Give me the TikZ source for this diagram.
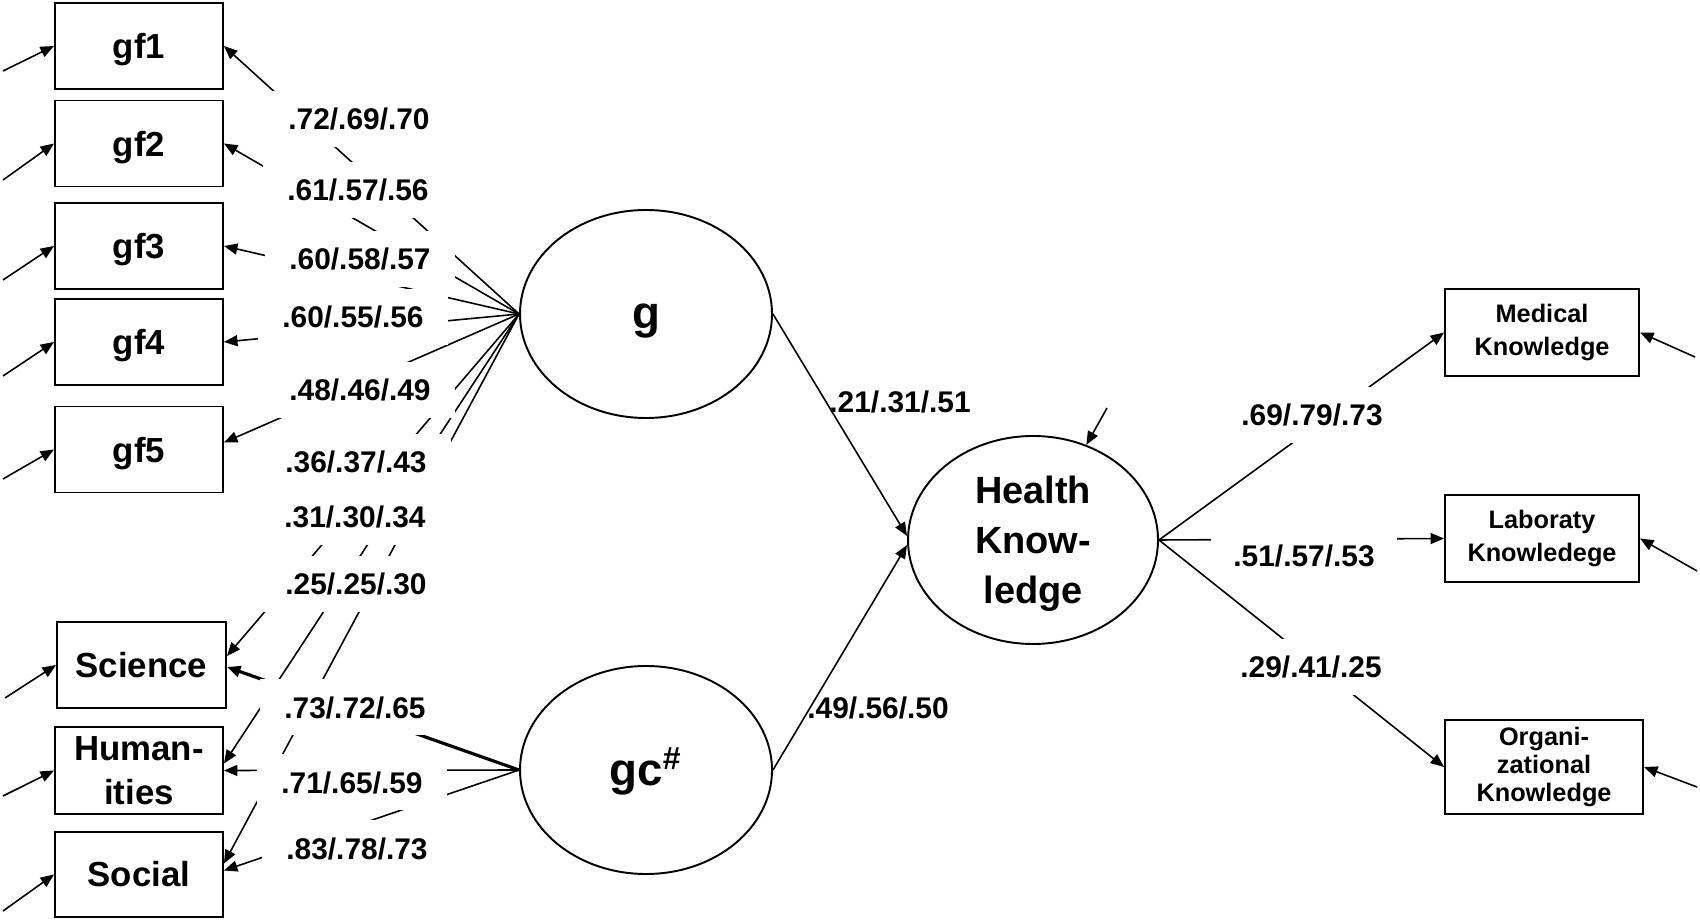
\documentclass[tikz,border=0pt]{standalone}
\usepackage{fontspec}
\setmainfont{Liberation Sans}
\usetikzlibrary{arrows.meta,shapes.geometric,calc}
\begin{document}
\begin{tikzpicture}[x=0.1mm,y=-0.1mm,
  line width=0.45pt,
  arr/.style={-{Triangle[length=1.35mm,width=1.1mm]}},
  obs/.style={draw, line width=0.55pt, fill=white, minimum width=16.8mm, minimum height=8.6mm, inner sep=0pt, align=center, font=\fontsize{9.9}{12.5}\selectfont\bfseries},
  lat/.style={draw, ellipse, line width=0.55pt, fill=white, minimum width=25.2mm, minimum height=20.8mm, inner sep=0pt, align=center},
  rbox/.style={draw, line width=0.55pt, fill=white, minimum width=19.4mm, minimum height=8.7mm, inner sep=0pt, align=center, font=\fontsize{7.2}{9.4}\selectfont\bfseries},
  coef/.style={fill=white, inner xsep=2.4mm, inner ysep=1.7mm, text height=2.2mm, text depth=0pt, font=\fontsize{8.5}{10}\selectfont\bfseries},
  coefn/.style={inner sep=0pt, text height=2.2mm, text depth=0pt, font=\fontsize{8.5}{10}\selectfont\bfseries}
]
\useasboundingbox (0,0) rectangle (1700,921);

% observed indicators (left)
\node[obs, text depth=0pt] (gf1) at (139,46) {gf1};
\node[obs, text depth=0pt] (gf2) at (139,143.5) {gf2};
\node[obs, text depth=0pt] (gf3) at (139,246) {gf3};
\node[obs, text depth=0pt] (gf4) at (139,342) {gf4};
\node[obs, text depth=0pt] (gf5) at (139,449.5) {gf5};
\node[obs, minimum width=16.9mm] (sci) at (141.5,665) {Science};
\node[obs, minimum height=8.7mm] (hum) at (139,770.5) {Human-\\ities};
\node[obs, minimum height=8.5mm] (soc) at (139,874.5) {Social};

% latent variables
\node[lat, text height=3mm, text depth=0pt, font=\fontsize{13}{15}\selectfont\bfseries] (g) at (646,314) {g};
\node[lat, text height=3mm, text depth=0pt, font=\fontsize{13}{15}\selectfont\bfseries] (gc) at (646,770) {gc\textsuperscript{\#}};
\node[lat, minimum width=25mm, text depth=0pt, font=\fontsize{10.8}{14.2}\selectfont\bfseries] (hk) at (1033,540) {Health\\Know-\\ledge};

% observed indicators (right)
\node[rbox] (med) at (1542,332.5) {Medical\\Knowledge};
\node[rbox] (lab) at (1542,538.5) {Laboraty\\Knowledege};
\node[rbox, minimum width=19.8mm, minimum height=9.4mm, font=\fontsize{7.2}{8}\selectfont\bfseries] (org) at (1544,767) {Organi-\\zational\\Knowledge};

% error terms
\coordinate (e1) at (3,71);
\coordinate (e2) at (3,180);
\coordinate (e3) at (3,280);
\coordinate (e4) at (3,376);
\coordinate (e5) at (3,479);
\coordinate (e6) at (5,698);
\coordinate (e7) at (3,796);
\coordinate (e8) at (3,911);
\coordinate (em) at (1695,357);
\coordinate (el) at (1697,571);
\coordinate (eo) at (1697,787);
\coordinate (eh) at (1107,408);

\draw[arr] (e1) -- (gf1.west);
\draw[arr] (e2) -- (gf2.west);
\draw[arr] (e3) -- (gf3.west);
\draw[arr] (e4) -- (gf4.west);
\draw[arr] (e5) -- (gf5.west);
\draw[arr] (e6) -- (sci.west);
\draw[arr] (e7) -- (hum.west);
\draw[arr] (e8) -- (soc.west);
\draw[arr] (em) -- (med.east);
\draw[arr] (el) -- (lab.east);
\draw[arr] (eo) -- (org.east);
\draw[arr] (eh) -- (hk);

% loadings of g
\draw[arr] (g.west) -- (gf1.east);
\draw[arr] (g.west) -- (gf2.east);
\draw[arr] (g.west) -- (gf3.east);
\draw[arr] (g.west) -- (gf4.east);
\draw[arr] (g.west) -- ($(gf5.east)+(0,-7)$);
\draw[arr] (g.west) -- ($(sci.east)+(0,-9)$);
\draw[arr] (g.west) -- ($(hum.east)+(0,-7)$);
\draw[arr] (g.west) -- ($(soc.east)+(0,-11)$);

% loadings of gc
\draw[arr, line width=0.9pt] (gc.west) -- ($(sci.east)+(0,2)$);
\draw[arr] (gc.west) -- (hum.east);
\draw[arr] (gc.west) -- ($(soc.east)+(0,-4)$);

% structural paths
\draw[arr] (g.east) -- ($(hk.west)+(0,-4)$);
\draw[arr] (gc.east) -- ($(hk.west)+(0,5)$);

% loadings of Health Knowledge
\draw[arr] (hk.east) -- (med.west);
\draw[arr] (hk.east) -- (lab.west);
\draw[arr] (hk.east) -- (org.west);

% coefficients (left column)
\node[coef] (c1) at (359,119) {.72/.69/.70};
\node[coef] (c2) at (358,190) {.61/.57/.56};
\node[coef] (c3) at (360,259) {.60/.58/.57};
\node[coef] (c4) at (353,317) {.60/.55/.56};
\node[coef] (c5) at (360,390) {.48/.46/.49};
\node[coef] (c6) at (356,462) {.36/.37/.43};
\node[coef] (c7) at (355,517) {.31/.30/.34};
\node[coef] (c8) at (356,584) {.25/.25/.30};
\node[coef] (c9) at (355,707) {.73/.72/.65};
\node[coef] (c10) at (352,782) {.71/.65/.59};
\node[coef] (c11) at (357,848) {.83/.78/.73};

% coefficients (structural)
\node[coefn] (c12) at (900,402) {.21/.31/.51};
\node[coefn] (c13) at (878,707) {.49/.56/.50};

% coefficients (right)
\node[coef] (c14) at (1312,415) {.69/.79/.73};
\node[coef, inner ysep=1.2mm, inner xsep=2.2mm] (c15) at (1304,556) {.51/.57/.53};
\node[coef] (c16) at (1311,667) {.29/.41/.25};
\end{tikzpicture}
\end{document}
